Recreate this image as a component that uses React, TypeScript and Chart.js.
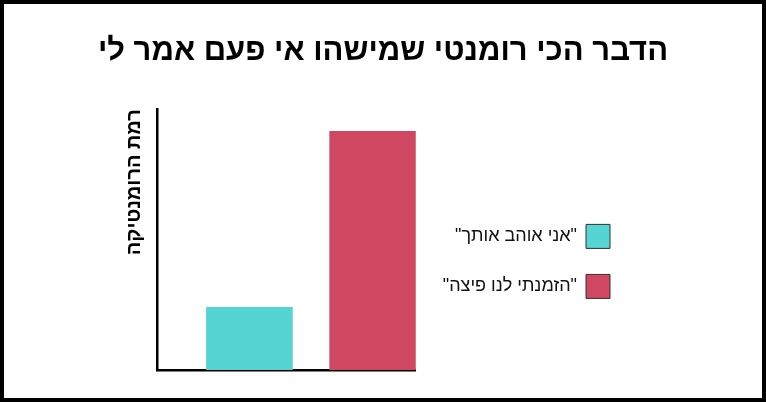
import React, { useEffect, useRef } from "react";
import { Chart, registerables } from "chart.js";

Chart.register(...registerables);

const chartTitle = "הדבר הכי רומנטי שמישהו אי פעם אמר לי";
const yAxisTitle = "רמת הרומנטיקה";
const seriesLabels = ['"אני אוהב אותך"', '"הזמנתי לנו פיצה"'];
const seriesValues = [24, 91.5];
const seriesColors = ["#56D4D3", "#D04761"];

const FONT = "'Liberation Sans', Arial, sans-serif";

const hiddenAxis = (width: number, weight: number) => ({
  position: "right",
  display: true,
  weight,
  ticks: { display: false },
  grid: { display: false, drawTicks: false },
  border: { display: false },
  afterFit: (s: any) => {
    s.width = width;
  },
});

export default function App() {
  const ref = useRef<HTMLCanvasElement>(null);

  useEffect(() => {
    if (!ref.current) return;
    const datasets = seriesLabels.map((label, i) => ({
      label,
      data: [{ x: i + 1, y: seriesValues[i] }],
      backgroundColor: seriesColors[i],
      borderColor: seriesColors[i],
      borderWidth: 0,
      barThickness: 86,
      grouped: false,
    }));

    const chart = new Chart(ref.current, {
      type: "bar",
      data: { datasets } as any,
      options: {
        animation: false,
        responsive: false,
        devicePixelRatio: 1,
        layout: { padding: { top: 0, left: 0, right: 0, bottom: 28 } },
        scales: {
          x: {
            type: "linear",
            offset: false,
            min: 0.25,
            max: 2.35,
            ticks: { display: false },
            grid: { display: false, drawTicks: false, offset: false },
            border: { color: "#000", width: 2.5 },
          },
          y: {
            min: 0,
            max: 100,
            ticks: { display: false },
            grid: { display: false, drawTicks: false },
            border: { color: "#000", width: 2.5 },
            title: {
              display: true,
              text: yAxisTitle,
              align: "end",
              color: "#000",
              font: { family: FONT, size: 20, weight: "bold" },
              padding: { top: 118, bottom: 11 },
            },
            afterFit: (s: any) => {
              s.width = 153;
            },
          },
          y2: hiddenAxis(17, 0),
          y3: hiddenAxis(126, 2000),
        },
        plugins: {
          title: {
            display: true,
            text: chartTitle,
            color: "#000",
            font: { family: FONT, size: 31, weight: "bold" },
            padding: { top: 29, bottom: 39 },
          },
          legend: {
            position: "right",
            align: "start",
            rtl: true,
            maxWidth: 400,
            title: {
              display: true,
              text: " ",
              font: { size: 12 },
              padding: { top: 0, bottom: 180 },
            },
            labels: {
              boxWidth: 24,
              boxHeight: 24,
              padding: 26,
              color: "#111",
              font: { family: FONT, size: 18 },
              generateLabels: (c: any) =>
                (Chart.defaults.plugins.legend.labels.generateLabels as any)(c).map((l: any) => ({
                  ...l,
                  lineWidth: 1,
                  strokeStyle: "#333",
                })),
            },
          },
          tooltip: { enabled: false },
        },
      } as any,
    });
    return () => chart.destroy();
  }, []);

  return (
    <div
      style={{
        position: "fixed",
        left: 0,
        top: 0,
        width: 766,
        height: 402,
        boxSizing: "border-box",
        border: "4px solid #000",
        background: "#fff",
      }}
    >
      <canvas ref={ref} width={758} height={394} style={{ display: "block", width: 758, height: 394 }} />
    </div>
  );
}
